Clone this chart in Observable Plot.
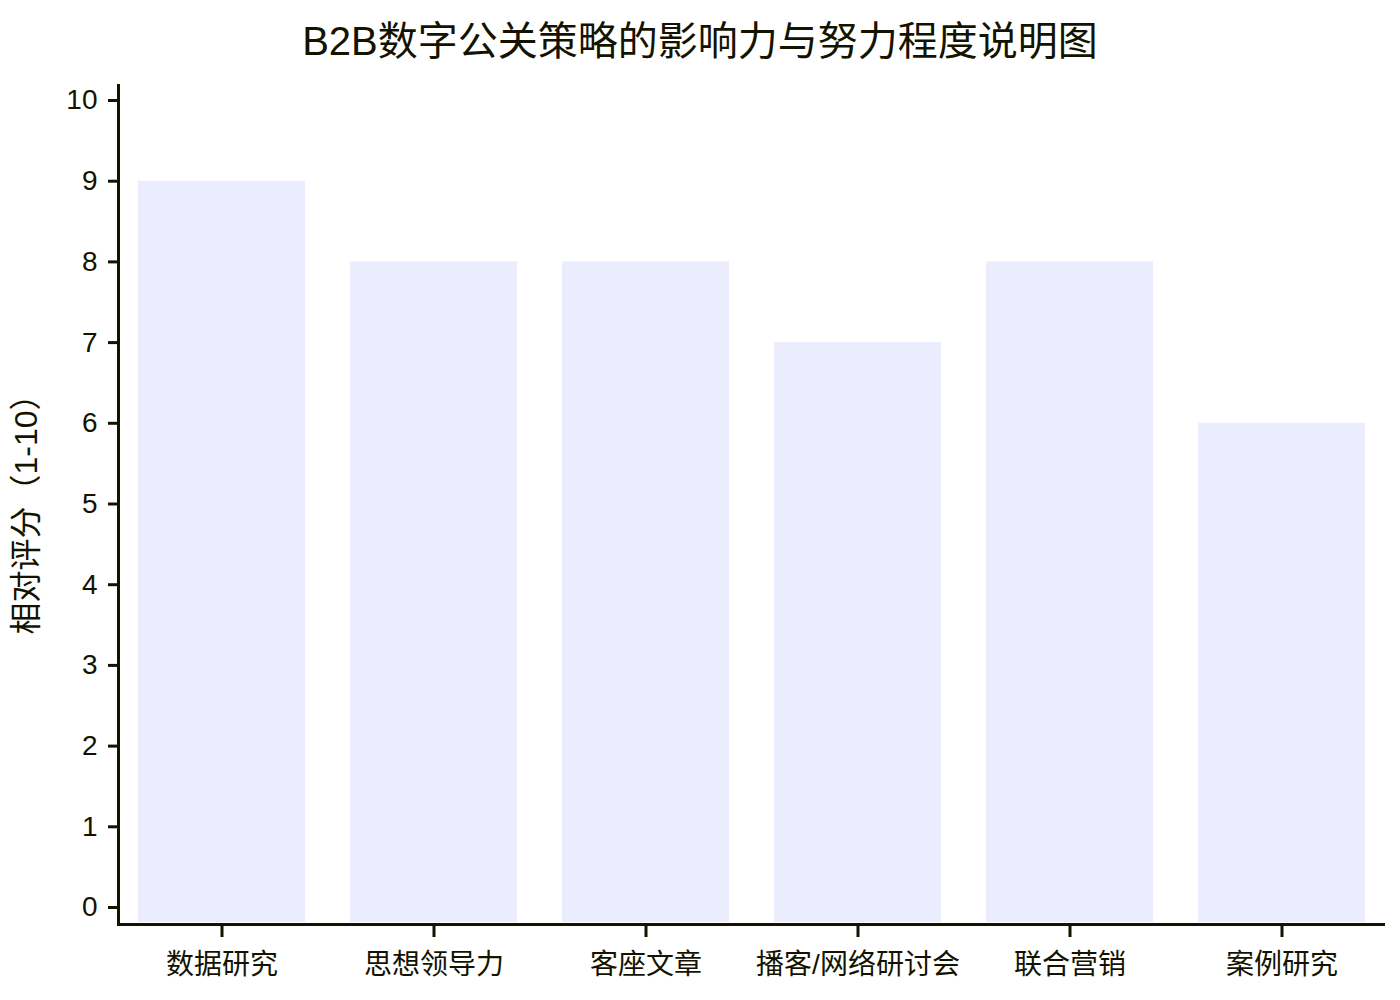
<!DOCTYPE html>
<html>
<head>
<meta charset="utf-8">
<script src="https://cdn.jsdelivr.net/npm/d3@7"></script>
<script src="https://cdn.jsdelivr.net/npm/@observablehq/plot@0.6"></script>
<style>
  html, body { margin: 0; padding: 0; background: #fff; }
  body { width: 1400px; font-family: "Liberation Sans", Arial, "Noto Sans CJK SC", sans-serif; }
  #title { height: 80px; line-height: 82px; text-align: center; font-size: 40px; color: #131300; }
  #chart svg { display: block; }
</style>
</head>
<body>
<div id="title">B2B数字公关策略的影响力与努力程度说明图</div>
<div id="chart"></div>
<script>
const categories = ["数据研究", "思想领导力", "客座文章", "播客/网络研讨会", "联合营销", "案例研究"];
const scores = [9, 8, 8, 7, 8, 6];
const yTicks = [0, 1, 2, 3, 4, 5, 6, 7, 8, 9, 10];
const yLabel = "相对评分（1-10）";

const data = categories.map((c, i) => ({category: c, score: scores[i]}));
const ink = "#131300";

const chart = Plot.plot({
  width: 1400,
  height: 920,
  marginLeft: 118,
  marginRight: 17,
  marginTop: 5,
  marginBottom: 76,
  style: {fontFamily: '"Liberation Sans", Arial, "Noto Sans CJK SC", sans-serif', color: ink, background: "#fff"},
  x: {domain: categories, range: [116, 1388], paddingInner: 0.21, paddingOuter: 0.1, label: null},
  y: {domain: [0, 10], range: [827, 20], label: null},
  marks: [
    Plot.barY(data, {x: "category", y: "score", fill: "#ECECFF", insetBottom: -15}),
    Plot.axisY({anchor: "left", ticks: yTicks, tickFormat: d => String(d), tickSize: 10, tickPadding: 11, strokeWidth: 3, fontSize: 28, color: ink, label: null}),
    Plot.axisX({anchor: "bottom", tickSize: 13, tickPadding: 17, strokeWidth: 3, fontSize: 28, color: ink, label: null}),
    Plot.frame({anchor: "left", stroke: ink, strokeWidth: 3}),
    Plot.frame({anchor: "bottom", stroke: ink, strokeWidth: 3}),
    Plot.text([yLabel], {text: d => d, frameAnchor: "left", dx: -92, dy: 1.5, rotate: -90, fontSize: 32, fill: ink, textAnchor: "middle", lineAnchor: "middle"})
  ]
});
document.getElementById("chart").appendChild(chart);
</script>
</body>
</html>
